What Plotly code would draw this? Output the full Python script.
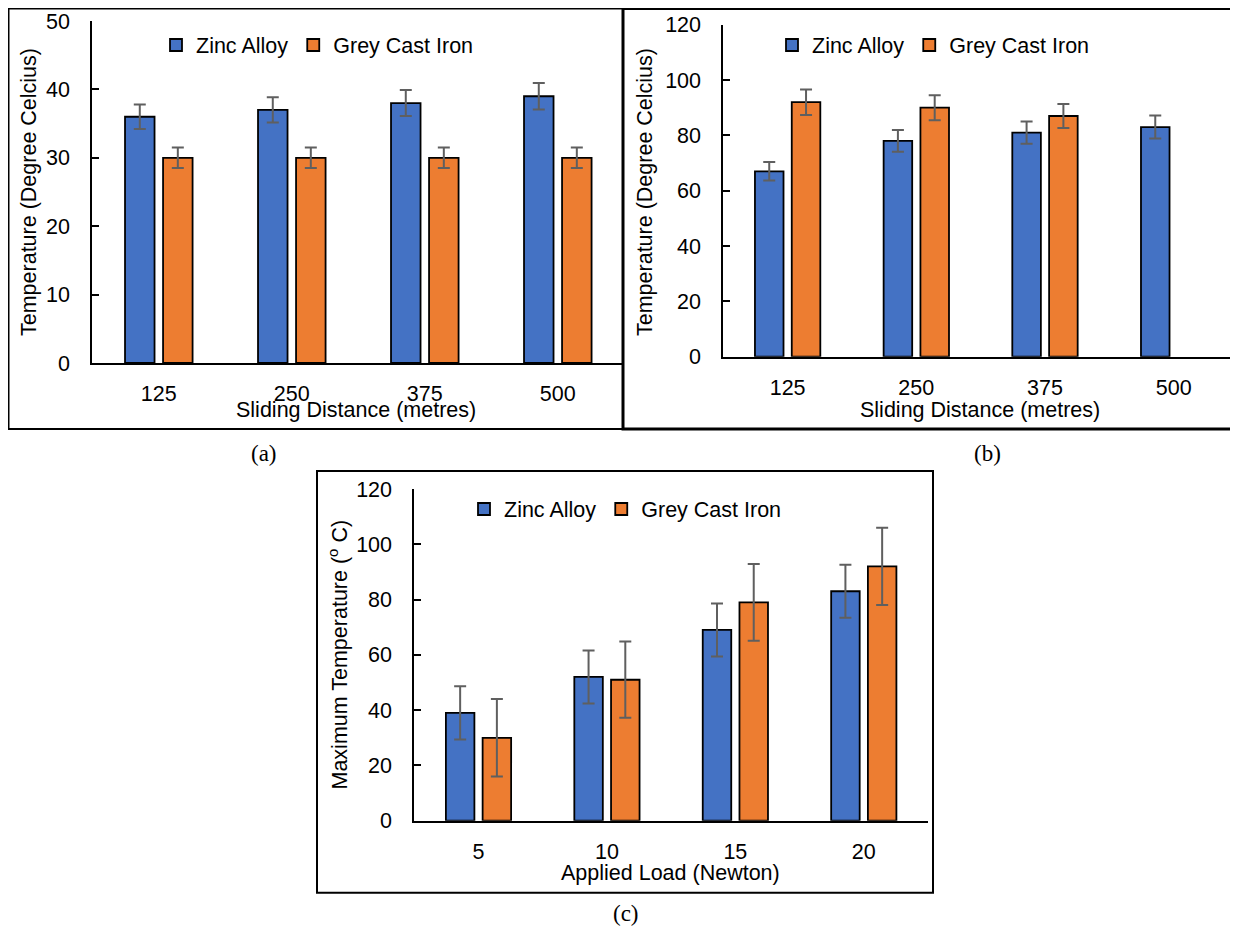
import plotly.graph_objects as go

# page body has an 8px margin, so the figure is 8px smaller and everything is placed
# relative to the visible window
OFF = 8
W, H = 1238 - OFF, 928 - OFF

# ---------------- data ----------------
dist_labels = ["125", "250", "375", "500"]
load_labels = ["5", "10", "15", "20"]

a_zinc = [36, 37, 38, 39]
a_zinc_err = [1.8, 1.85, 1.9, 1.95]
a_iron = [30, 30, 30, 30]
a_iron_err = [1.5, 1.5, 1.5, 1.5]

b_zinc = [67, 78, 81, 83]
b_zinc_err = [3.35, 3.9, 4.05, 4.15]
b_iron = [92, 90, 87, None]
b_iron_err = [4.6, 4.5, 4.35, None]

c_zinc = [39, 52, 69, 83]
c_zinc_err = [9.6, 9.6, 9.6, 9.6]
c_iron = [30, 51, 79, 92]
c_iron_err = [14, 13.8, 13.9, 14]

series_names = ["Zinc Alloy", "Grey Cast Iron"]
BLUE = "#4472C4"
ORANGE = "#ED7D31"
ERR = "#5f5f5f"
FONT = "Liberation Sans, Arial, sans-serif"
FS = 21.5

def px(x):
    return (x - OFF) / W

def py(y):
    return 1 - (y - OFF) / H

fig = go.Figure()

BW = 0.222
OFF_BLUE = -0.254
OFF_ORANGE = 0.032

panels = [
    ("x", "y", "legend", dist_labels, a_zinc, a_zinc_err, a_iron, a_iron_err),
    ("x2", "y2", "legend2", dist_labels, b_zinc, b_zinc_err, b_iron, b_iron_err),
    ("x3", "y3", "legend3", load_labels, c_zinc, c_zinc_err, c_iron, c_iron_err),
]

for xa, ya, lg, cats, z, ze, g, ge in panels:
    for name, vals, errs, col, off in [
        (series_names[0], z, ze, BLUE, OFF_BLUE),
        (series_names[1], g, ge, ORANGE, OFF_ORANGE),
    ]:
        fig.add_trace(go.Bar(
            x=cats, y=vals, name=name, xaxis=xa, yaxis=ya, legend=lg,
            width=BW, offset=off,
            marker=dict(color=col, line=dict(color="black", width=1.8)),
            error_y=dict(type="data", array=errs, visible=True,
                         color=ERR, thickness=2, width=6),
        ))

def xaxis_cfg(domain):
    return dict(domain=domain, type="category", showline=True, linecolor="black",
                linewidth=2, ticks="", showgrid=False, zeroline=False, automargin=False,
                tickfont=dict(family=FONT, size=FS, color="black"),
                ticklabelstandoff=10, fixedrange=True)

def yaxis_cfg(domain, rng, dtick):
    return dict(domain=domain, range=rng, dtick=dtick, showline=True, linecolor="black",
                linewidth=2, ticks="inside", ticklen=7, tickwidth=1.5, tickcolor="black",
                showgrid=False, zeroline=False, automargin=False,
                tickfont=dict(family=FONT, size=FS, color="black"),
                ticklabelstandoff=16, fixedrange=True)

fig.update_layout(
    width=W, height=H, margin=dict(l=0, r=0, t=0, b=0, pad=0, autoexpand=False),
    autosize=False,
    paper_bgcolor="white", plot_bgcolor="rgba(0,0,0,0)",
    barmode="overlay", showlegend=True,
    xaxis=xaxis_cfg([px(92.3), px(624.3)]),
    yaxis=yaxis_cfg([py(363), py(21)], [0, 50], 10),
    xaxis2=xaxis_cfg([px(723.3), 1.0]),
    yaxis2=yaxis_cfg([py(356.7), py(24.7)], [0, 120], 20),
    xaxis3=xaxis_cfg([px(414.3), px(928)]),
    yaxis3=yaxis_cfg([py(820.7), py(489)], [0, 120], 20),
)
fig.update_layout(xaxis2_anchor="y2", yaxis2_anchor="x2",
                  xaxis3_anchor="y3", yaxis3_anchor="x3")

def legend_cfg(x, y):
    return dict(orientation="h", x=px(x), y=py(y), xanchor="left", yanchor="middle",
                bgcolor="rgba(0,0,0,0)", borderwidth=0,
                font=dict(family=FONT, size=FS, color="black"))

fig.update_layout(
    legend=legend_cfg(156, 45),
    legend2=legend_cfg(772, 45),
    legend3=legend_cfg(464, 509),
)

# panel frames
shapes = [
    dict(type="rect", xref="paper", yref="paper", x0=px(8.5), y0=py(429), x1=px(623), y1=py(8.5),
         line=dict(color="black", width=2)),
    dict(type="rect", xref="paper", yref="paper", x0=px(623), y0=py(429), x1=px(1245), y1=py(8.5),
         line=dict(color="black", width=3)),
    dict(type="rect", xref="paper", yref="paper", x0=px(317), y0=py(892.7), x1=px(933), y1=py(471),
         line=dict(color="black", width=2)),
]
fig.update_layout(shapes=shapes)

ann = []
def txt(x, y, s, angle=0, size=FS, family=FONT):
    ann.append(dict(xref="paper", yref="paper", x=px(x), y=py(y), text=s, showarrow=False,
                    textangle=angle, xanchor="center", yanchor="middle",
                    font=dict(family=family, size=size, color="black")))

txt(28.5, 192.5, "Temperature (Degree Celcius)", angle=-90)
txt(356, 410, "Sliding Distance (metres)")
txt(645, 192, "Temperature (Degree Celcius)", angle=-90)
txt(980, 410, "Sliding Distance (metres)")
txt(337.5, 655, "Maximum Temperature (<sup>o</sup> C)", angle=-90)
txt(670, 873, "Applied Load (Newton)")

SERIF = "Liberation Serif, Times New Roman, serif"
txt(264, 453, "(a)", size=23, family=SERIF)
txt(987, 453, "(b)", size=23, family=SERIF)
txt(626, 913, "(c)", size=23, family=SERIF)

fig.update_layout(annotations=ann)

fig.write_html("out.html", config={"responsive": False})
